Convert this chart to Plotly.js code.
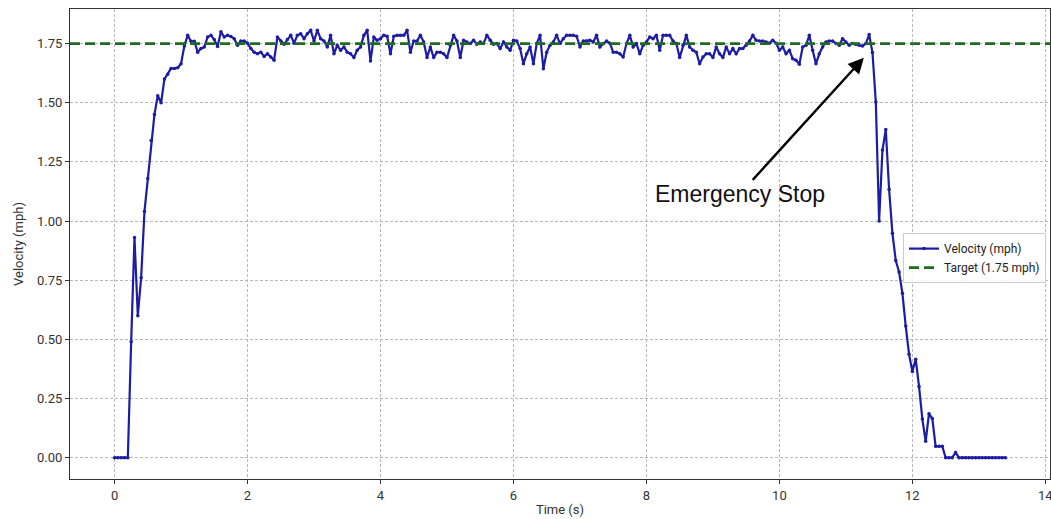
<!DOCTYPE html>
<html>
<head>
<meta charset="utf-8">
<script src="https://cdn.plot.ly/plotly-3.0.1.min.js"></script>
<style>html,body{margin:0;padding:0;background:#fff;}#chart{width:1051px;height:519px;}</style>
</head>
<body>
<div id="chart"></div>
<script>
// Sampling
const TIME_START = 0;
const TIME_STEP = 0.05; // s

// Velocity samples (mph), one every TIME_STEP seconds from 0 to 13.4 s
const velocityRamp = [0, 0, 0, 0, 0, 0.49, 0.93, 0.60, 0.76, 1.04, 1.18, 1.34, 1.45, 1.53, 1.50,
  1.60, 1.62, 1.645, 1.645, 1.648, 1.665, 1.74, 1.785];
const velocityCruiseA = [1.76, 1.76, 1.714, 1.729, 1.736, 1.778, 1.785, 1.767, 1.738, 1.80,
  1.778, 1.785, 1.78, 1.771, 1.743, 1.761, 1.761, 1.752, 1.729, 1.714,
  1.707, 1.714, 1.696, 1.707, 1.693, 1.68, 1.778, 1.761, 1.747, 1.767,
  1.785, 1.752, 1.785, 1.792, 1.771, 1.792, 1.806, 1.761, 1.806, 1.771,
  1.761, 1.736, 1.785, 1.707, 1.743, 1.722, 1.736, 1.714, 1.707, 1.691,
  1.722, 1.736, 1.785, 1.806, 1.677, 1.778, 1.764, 1.771, 1.785, 1.781,
  1.707, 1.781, 1.785, 1.785, 1.785, 1.806, 1.714, 1.761, 1.761];
const velocityCruiseB = [1.785, 1.757, 1.691, 1.736, 1.691, 1.714, 1.714, 1.707, 1.691, 1.743,
  1.785, 1.761, 1.691, 1.764, 1.757, 1.75, 1.764, 1.747, 1.757, 1.75,
  1.785, 1.764, 1.747, 1.75, 1.729, 1.757, 1.736, 1.722, 1.764, 1.761,
  1.729, 1.665, 1.707, 1.736, 1.665, 1.75, 1.785, 1.644, 1.714, 1.743,
  1.757, 1.785, 1.75, 1.771, 1.785, 1.785, 1.785, 1.781, 1.736, 1.761,
  1.761, 1.764, 1.757, 1.785, 1.736, 1.75, 1.761, 1.752, 1.714, 1.714,
  1.707, 1.693, 1.75, 1.785, 1.736, 1.75, 1.707, 1.743, 1.757, 1.778];
const velocityCruiseC = [1.771, 1.785, 1.722, 1.785, 1.785, 1.785, 1.761, 1.75, 1.691, 1.743,
  1.785, 1.736, 1.722, 1.714, 1.665, 1.693, 1.707, 1.707, 1.691, 1.736,
  1.707, 1.691, 1.736, 1.707, 1.729, 1.707, 1.729, 1.729, 1.743, 1.761,
  1.785, 1.764, 1.761, 1.761, 1.757, 1.752, 1.764, 1.752, 1.722, 1.736,
  1.707, 1.722, 1.686, 1.68, 1.663, 1.736, 1.743, 1.785, 1.722, 1.665,
  1.707, 1.736, 1.757, 1.761, 1.761, 1.75, 1.743, 1.771, 1.757, 1.743,
  1.75, 1.747, 1.743, 1.74, 1.75];
const velocityStop = [1.788, 1.712, 1.503, 1.00, 1.30, 1.387, 1.134, 0.948, 0.833, 0.785,
  0.695, 0.556, 0.437, 0.364, 0.416, 0.301, 0.163, 0.069, 0.186, 0.165,
  0.048, 0.048, 0.048, 0, 0, 0, 0.022,
  0, 0, 0, 0, 0, 0, 0, 0, 0, 0, 0, 0, 0, 0, 0];
const velocity = [].concat(velocityRamp, velocityCruiseA, velocityCruiseB, velocityCruiseC, velocityStop);

const TARGET = 1.75;
const xTicks = [0, 2, 4, 6, 8, 10, 12, 14];
const yTicks = [0, 0.25, 0.5, 0.75, 1.0, 1.25, 1.5, 1.75];
const annotationText = "Emergency Stop";
const annotationPoint = {x: 11.27, y: 1.69};
const annotationTextPos = {x: 9.4, y: 1.113};

const lastT = TIME_START + TIME_STEP * (velocity.length - 1);
const vmax = Math.max.apply(null, velocity);
const xPad = 0.05 * (lastT - TIME_START);
const yPad = 0.05 * vmax;

const traces = [
  {
    type: 'scatter', mode: 'lines+markers', name: 'Velocity (mph)',
    y: velocity, x0: TIME_START, dx: TIME_STEP,
    line: {color: '#1c1ca4', width: 2.2},
    marker: {color: '#1c1ca4', size: 3.5},
    hoverinfo: 'skip'
  },
  {
    type: 'scatter', mode: 'lines', name: 'Target (1.75 mph)',
    x: [TIME_START - xPad, lastT + xPad], y: [TARGET, TARGET],
    line: {color: '#1f6b1f', width: 2.6, dash: '10px,5px'},
    hoverinfo: 'skip'
  }
];

const axisFont = {family: 'Roboto, "Noto Sans", sans-serif', size: 13, color: '#333'};

const layout = {
  width: 1051, height: 519,
  margin: {l: 70, r: 1, t: 9, b: 40},
  paper_bgcolor: '#fff', plot_bgcolor: '#fff',
  showlegend: true,
  legend: {
    x: 0.850, xanchor: 'left', y: 0.47, yanchor: 'middle',
    bgcolor: 'rgba(255,255,255,0.85)', bordercolor: '#cccccc', borderwidth: 1,
    font: {family: 'Roboto, "Noto Sans", sans-serif', size: 12, color: '#222'},
    tracegroupgap: 4, itemwidth: 30
  },
  xaxis: {
    range: [TIME_START - xPad, lastT + xPad],
    tickvals: xTicks, ticktext: xTicks.map(String),
    ticks: 'outside', ticklen: 4, tickcolor: '#333',
    ticklabeloverflow: 'allow',
    showline: true, linecolor: '#333', linewidth: 1, mirror: true,
    showgrid: true, gridcolor: '#b8b8b8', gridwidth: 1, griddash: '3px,2px',
    zeroline: false,
    tickfont: axisFont,
    title: {text: 'Time (s)', font: {family: axisFont.family, size: 13, color: '#333'}, standoff: 3}
  },
  yaxis: {
    range: [-yPad, vmax + yPad],
    tickvals: yTicks, ticktext: yTicks.map(v => v.toFixed(2)),
    ticks: 'outside', ticklen: 4, tickcolor: '#333',
    showline: true, linecolor: '#333', linewidth: 1, mirror: true,
    showgrid: true, gridcolor: '#b8b8b8', gridwidth: 1, griddash: '3px,2px',
    zeroline: false,
    tickfont: axisFont,
    title: {text: 'Velocity (mph)', font: {family: axisFont.family, size: 13, color: '#333'}, standoff: 10}
  },
  annotations: [{
    x: annotationPoint.x, y: annotationPoint.y, xref: 'x', yref: 'y',
    ax: annotationTextPos.x, ay: annotationTextPos.y, axref: 'x', ayref: 'y',
    text: annotationText, showarrow: true,
    arrowhead: 2, arrowsize: 1.3, arrowwidth: 2.4, arrowcolor: '#000',
    font: {family: '"Liberation Sans", Arial, sans-serif', size: 23, color: '#111'}
  }]
};

Plotly.newPlot('chart', traces, layout, {displayModeBar: false, staticPlot: true});
</script>
</body>
</html>
